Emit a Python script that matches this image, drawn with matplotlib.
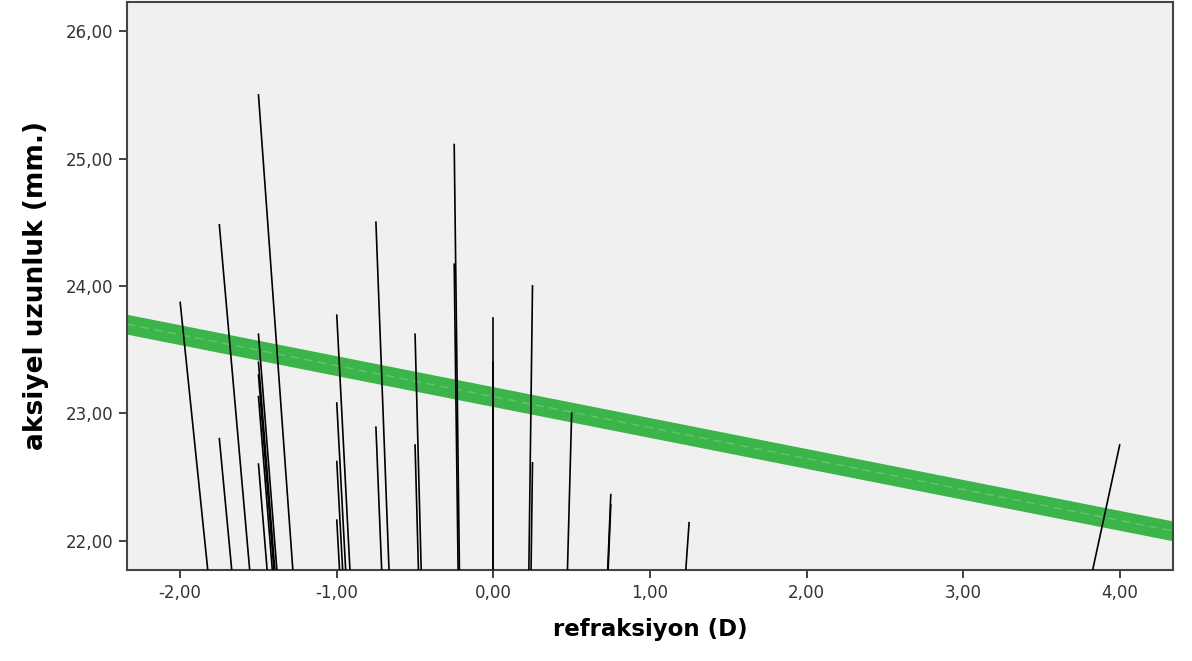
import numpy as np
import matplotlib.pyplot as plt
from matplotlib.ticker import FuncFormatter

# data points (refraction D, axial length mm); SPSS spikes drawn to origin
refraction = [-2.0, -1.75, -1.75, -1.5, -1.5, -1.5, -1.5, -1.5, -1.5,
              -1.0, -1.0, -1.0, -1.0, -0.75, -0.75, -0.5, -0.5,
              -0.25, -0.25, 0.0, 0.0, 0.25, 0.25, 0.5, 0.75, 0.75, 1.25, 4.0]
axial_length = [23.87, 24.48, 22.80, 25.50, 23.62, 23.40, 23.30, 23.13, 22.60,
                23.77, 23.08, 22.62, 22.16, 24.50, 22.89, 23.62, 22.75,
                25.11, 24.17, 23.75, 23.40, 24.00, 22.61, 23.00, 22.36, 22.28, 22.14, 22.75]

# fit line
fit_intercept = 23.13
fit_slope = -0.243
fit_halfwidth = 0.078

x_ticks = [-2, -1, 0, 1, 2, 3, 4]
y_ticks = [22, 23, 24, 25, 26]
xlim = (-2.34, 4.34)
ylim = (21.77, 26.23)


def comma_fmt(v, pos):
    return f"{v:.2f}".replace('.', ',')


fig = plt.figure(figsize=(11.92, 6.61), dpi=100)
ax = fig.add_axes([0.1065, 0.138, 0.8775, 0.859])
ax.set_facecolor('#f0f0f0')

for x, y in zip(refraction, axial_length):
    ax.plot([x, 0], [y, 0], color='black', lw=1.2, zorder=3)

xs = np.array(xlim)
ys = fit_intercept + fit_slope * xs
ax.fill_between(xs, ys - fit_halfwidth, ys + fit_halfwidth,
                color='#3bb54a', lw=0, zorder=2)
ax.plot(xs, ys, color='#5fc86c', lw=1.0, ls=(0, (6, 4)), zorder=2)

ax.set_xlim(*xlim)
ax.set_ylim(*ylim)
ax.set_xticks(x_ticks)
ax.set_yticks(y_ticks)
ax.xaxis.set_major_formatter(FuncFormatter(comma_fmt))
ax.yaxis.set_major_formatter(FuncFormatter(comma_fmt))
ax.tick_params(direction='out', length=6, width=1.3, colors='#333333',
               labelsize=12, pad=4)
for s in ax.spines.values():
    s.set_color('#444444')
    s.set_linewidth(1.5)

ax.set_xlabel('refraksiyon (D)', fontsize=16.5, fontweight='bold', labelpad=12)
ax.set_ylabel('aksiyel uzunluk (mm.)', fontsize=19, fontweight='bold', labelpad=12)

fig.savefig('out.png', dpi=100)
